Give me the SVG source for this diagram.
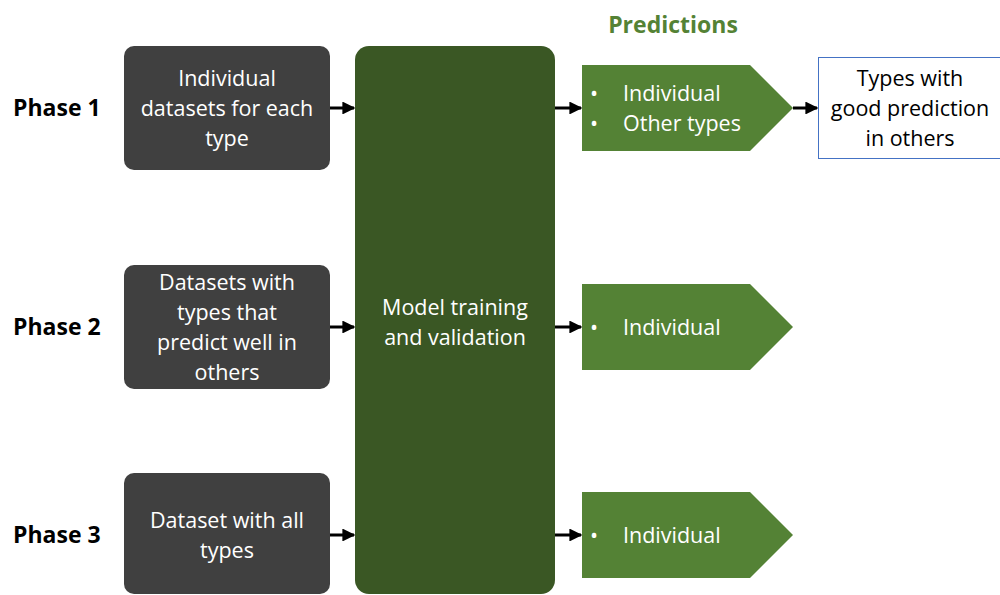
<svg xmlns="http://www.w3.org/2000/svg" width="1000" height="595" viewBox="0 0 1000 595">
  <defs>
    <marker id="arrow" viewBox="0 0 10 10" refX="9" refY="5" markerWidth="4.3" markerHeight="4.3" orient="auto" markerUnits="strokeWidth">
      <path d="M0,0 L10,5 L0,10 z" fill="#000"/>
    </marker>
    <style>
      text { font-family: "Open Sans", "Noto Sans", sans-serif; }
      .phase { font-size: 23px; font-weight: 700; fill: #000; }
      .input rect { fill: #404040; }
      .input text { font-size: 21.5px; fill: #fff; text-anchor: middle; }
      .model rect { fill: #3a5724; }
      .model text { font-size: 21.5px; fill: #fff; text-anchor: middle; }
      .pred polygon { fill: #548235; }
      .pred text { font-size: 21.5px; fill: #fff; }
      .title { font-size: 23px; font-weight: 700; fill: #548235; text-anchor: middle; }
      .result rect { fill: #fff; stroke: #4472c4; stroke-width: 1; }
      .result text { font-size: 21.5px; fill: #000; text-anchor: middle; }
      .conn line { stroke: #000; stroke-width: 3; marker-end: url(#arrow); }
    </style>
  </defs>
  <rect width="1000" height="595" fill="#fff"/>

  <!-- phase labels -->
  <g id="phase1"><text class="phase" x="13" y="116">Phase 1</text></g>
  <g id="phase2"><text class="phase" x="13" y="335">Phase 2</text></g>
  <g id="phase3"><text class="phase" x="13" y="543">Phase 3</text></g>

  <!-- input datasets -->
  <g id="input1" class="input">
    <rect x="124" y="46" width="206" height="124" rx="10"/>
    <text x="227" y="86">Individual</text>
    <text x="227" y="116">datasets for each</text>
    <text x="227" y="146">type</text>
  </g>
  <g id="input2" class="input">
    <rect x="124" y="265" width="206" height="124" rx="10"/>
    <text x="227" y="290">Datasets with</text>
    <text x="227" y="320">types that</text>
    <text x="227" y="350">predict well in</text>
    <text x="227" y="380">others</text>
  </g>
  <g id="input3" class="input">
    <rect x="124" y="473" width="206" height="121" rx="10"/>
    <text x="227" y="528">Dataset with all</text>
    <text x="227" y="558">types</text>
  </g>

  <!-- model -->
  <g id="model" class="model">
    <rect x="355" y="46" width="200" height="548" rx="14"/>
    <text x="455" y="315">Model training</text>
    <text x="455" y="345">and validation</text>
  </g>

  <!-- predictions -->
  <g id="predictions-title"><text class="title" x="673" y="33">Predictions</text></g>
  <g id="pred1" class="pred">
    <polygon points="582,65 750,65 793,108 750,151 582,151"/>
    <text x="590" y="101">•</text>
    <text x="623" y="101">Individual</text>
    <text x="590" y="131">•</text>
    <text x="623" y="131">Other types</text>
  </g>
  <g id="pred2" class="pred">
    <polygon points="582,284 750,284 793,327 750,370 582,370"/>
    <text x="590" y="335">•</text>
    <text x="623" y="335">Individual</text>
  </g>
  <g id="pred3" class="pred">
    <polygon points="582,492 750,492 793,535 750,578 582,578"/>
    <text x="590" y="543">•</text>
    <text x="623" y="543">Individual</text>
  </g>

  <!-- result -->
  <g id="result" class="result">
    <rect x="818.5" y="57.5" width="190" height="101"/>
    <text x="910" y="86">Types with</text>
    <text x="910" y="116">good prediction</text>
    <text x="910" y="146">in others</text>
  </g>

  <!-- connectors -->
  <g id="connectors" class="conn">
    <line x1="330" y1="108" x2="354" y2="108"/>
    <line x1="330" y1="327" x2="354" y2="327"/>
    <line x1="330" y1="535" x2="354" y2="535"/>
    <line x1="555" y1="108" x2="581" y2="108"/>
    <line x1="555" y1="327" x2="581" y2="327"/>
    <line x1="555" y1="535" x2="581" y2="535"/>
    <line x1="793" y1="108" x2="817" y2="108"/>
  </g>
</svg>
